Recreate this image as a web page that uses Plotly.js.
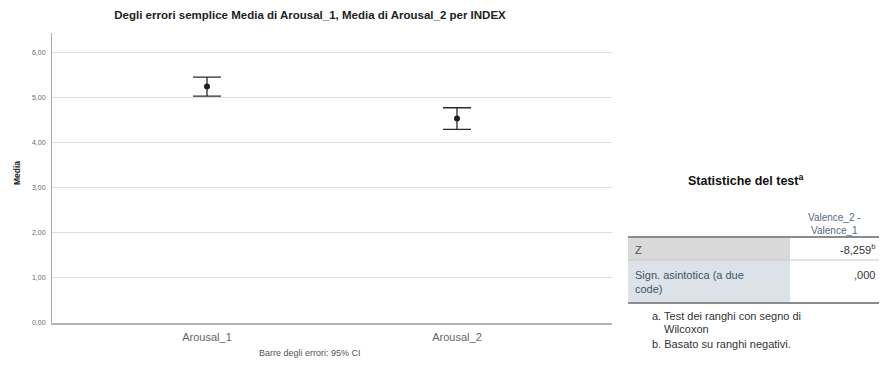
<!DOCTYPE html>
<html>
<head>
<meta charset="utf-8">
<script src="https://cdn.plot.ly/plotly-3.0.1.min.js"></script>
<style>
  html, body { margin: 0; padding: 0; background: #ffffff; }
  #chart { width: 881px; height: 367px; }
</style>
</head>
<body>
<div id="chart"></div>
<script>
// Means with 95% confidence intervals
const categories = ['Arousal_1', 'Arousal_2'];
const means = [5.25, 4.54];
const ci95 = [0.21, 0.24];

// Y axis ticks (Italian decimal comma)
const yTickVals = [0, 1, 2, 3, 4, 5, 6];
const yTickText = ['0,00', '1,00', '2,00', '3,00', '4,00', '5,00', '6,00'];

// Wilcoxon signed-rank test table
const testTitle = 'Statistiche del test';
const testColumn = ['Valence_2 -', 'Valence_1'];
const testRowLabels = ['Z', 'Sign. asintotica (a due', 'code)'];
const testRowValues = ['-8,259', ',000'];
const testNotes = ['a. Test dei ranghi con segno di', 'Wilcoxon', 'b. Basato su ranghi negativi.'];

// Plot-area geometry (pixels)
const W = 881, H = 367;
const L = 52, R = 612, T = 33, B = 323;
const px = x => (x - L) / (R - L);
const py = y => (B - y) / (B - T);

const FONT = 'Liberation Sans, Arial, sans-serif';

const trace = {
  type: 'scatter',
  mode: 'markers',
  x: categories,
  y: means,
  marker: { color: '#1e1e1e', size: 6, symbol: 'circle' },
  error_y: {
    type: 'data',
    array: ci95,
    visible: true,
    color: '#2a2a2a',
    thickness: 1.3,
    width: 14
  },
  hoverinfo: 'none',
  showlegend: false
};

const shapes = [];
const annotations = [];

function line(x0, y0, x1, y1, color, w) {
  shapes.push({ type: 'line', xref: 'paper', yref: 'paper',
    x0: px(x0), y0: py(y0), x1: px(x1), y1: py(y1),
    line: { color: color, width: w }, layer: 'above' });
}
function rect(x0, y0, x1, y1, fill) {
  shapes.push({ type: 'rect', xref: 'paper', yref: 'paper',
    x0: px(x0), y0: py(y0), x1: px(x1), y1: py(y1),
    fillcolor: fill, line: { width: 0 }, layer: 'below' });
}
function text(str, x, y, opts) {
  annotations.push(Object.assign({
    text: str, xref: 'paper', yref: 'paper', x: px(x), y: py(y),
    showarrow: false, xanchor: 'left', yanchor: 'middle', align: 'left',
    font: { family: FONT, size: 11, color: '#333333' }
  }, opts || {}));
}

// Axis title and error bar caption
text('Media', 17, 173, { xanchor: 'center', textangle: -90,
  font: { family: FONT, size: 8.5, color: '#222222', weight: 'bold' } });
text('Barre degli errori: 95% CI', 310, 353, { xanchor: 'center',
  font: { family: FONT, size: 9, color: '#555555' } });

// Table: title and column header
text(testTitle + '<sup>a</sup>', 745, 180, { xanchor: 'center', align: 'center',
  font: { family: FONT, size: 12.5, color: '#111111', weight: 'bold' } });
text(testColumn.join('<br>'), 834, 224, { xanchor: 'center', align: 'center',
  font: { family: FONT, size: 10, color: '#566a86' } });

// Table: cells
const tL = 628, tM = 790, tR = 879;
rect(tL, 237, tM, 260, '#d9d9d9');
rect(tL, 260, tM, 303, '#dce2e7');
line(tL, 237, tR, 237, '#8c8c8c', 2);
line(tL, 260, tR, 260, '#c9c9c9', 1);
line(tL, 303, tR, 303, '#8c8c8c', 2);

const labelFont = { family: FONT, size: 11, color: '#3d5568' };
const valueFont = { family: FONT, size: 11, color: '#333333' };
text(testRowLabels[0], 633, 250, { font: labelFont });
text(testRowLabels[1] + '<br>' + testRowLabels[2], 633, 282, { font: labelFont });
text(testRowValues[0] + '<sup>b</sup>', 877, 249, { xanchor: 'right', align: 'right', font: valueFont });
text(testRowValues[1], 877, 275, { xanchor: 'right', align: 'right', font: valueFont });

// Table: footnotes
text(testNotes[0], 650, 316, { font: valueFont });
text(testNotes[1], 662, 329, { font: valueFont });
text(testNotes[2], 650, 344, { font: valueFont });

const layout = {
  width: W, height: H,
  margin: { l: L, r: W - R, t: T, b: H - B, pad: 0 },
  paper_bgcolor: '#ffffff',
  plot_bgcolor: '#ffffff',
  title: {
    text: '<b>Degli errori semplice Media di Arousal_1, Media di Arousal_2 per INDEX</b>',
    font: { family: FONT, size: 11.5, color: '#222222' },
    xref: 'paper', x: px(310), xanchor: 'center',
    yref: 'container', y: 1 - 15 / H, yanchor: 'middle'
  },
  xaxis: {
    type: 'category',
    range: [-0.62, 1.62],
    showgrid: false,
    zeroline: false,
    showline: true,
    linecolor: '#b5b5b5',
    linewidth: 2,
    ticks: '',
    ticklabelstandoff: 3,
    tickfont: { family: FONT, size: 11, color: '#666666' },
    fixedrange: true
  },
  yaxis: {
    range: [0, 6.44],
    tickvals: yTickVals,
    ticktext: yTickText,
    showgrid: true,
    gridcolor: '#dedede',
    gridwidth: 1,
    zeroline: false,
    showline: true,
    linecolor: '#a8a8a8',
    linewidth: 1,
    ticks: '',
    ticklabelstandoff: 4,
    tickfont: { family: FONT, size: 7, color: '#6a6a6a' },
    fixedrange: true
  },
  shapes: shapes,
  annotations: annotations
};

Plotly.newPlot('chart', [trace], layout, { displayModeBar: false, staticPlot: true });
</script>
</body>
</html>
